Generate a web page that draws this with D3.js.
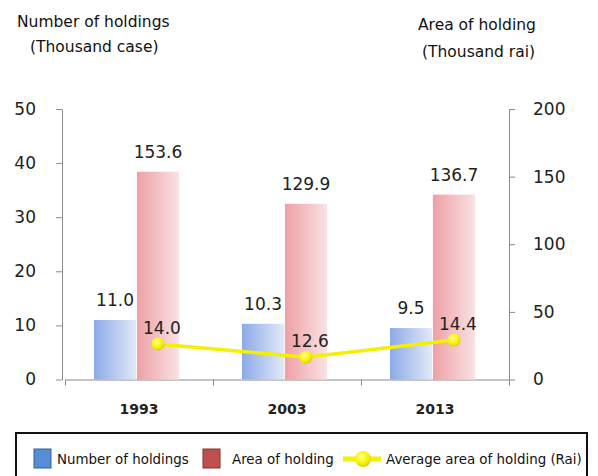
<!DOCTYPE html>
<html>
<head>
<meta charset="utf-8">
<script src="https://cdn.jsdelivr.net/npm/d3@7"></script>
<style>
  body { margin: 0; background: #fff; }
  svg { display: block; font-family: "DejaVu Sans", sans-serif; }
</style>
</head>
<body>
<svg id="chart" width="598" height="476"></svg>
<script>
// data
const years = ["1993", "2003", "2013"];
const holdings = [11.0, 10.3, 9.5];          // thousand case (left axis)
const areas = [153.6, 129.9, 136.7];         // thousand rai (right axis)
const avgArea = [14.0, 12.6, 14.4];          // rai per holding
const leftTicks = [0, 10, 20, 30, 40, 50];
const rightTicks = [0, 50, 100, 150, 200];
const seriesKeys = ["holdings", "area"];

const svg = d3.select("#chart");

// plot box
const x0px = 65, x1px = 509, yBottom = 379.5, yTop = 109;

// gradients for the bars + the yellow marker
const defs = svg.append("defs");
function hGrad(id, from, to) {
  const g = defs.append("linearGradient").attr("id", id)
    .attr("x1", "0%").attr("x2", "100%").attr("y1", "0%").attr("y2", "0%");
  g.append("stop").attr("offset", "0%").attr("stop-color", from);
  g.append("stop").attr("offset", "100%").attr("stop-color", to);
}
hGrad("blueGrad", "#8caae6", "#e2e9f8");
hGrad("redGrad", "#eea0a6", "#f9e2e3");
const rg = defs.append("radialGradient").attr("id", "dotGrad")
  .attr("cx", "40%").attr("cy", "35%").attr("r", "65%");
rg.append("stop").attr("offset", "0%").attr("stop-color", "#ffff80");
rg.append("stop").attr("offset", "70%").attr("stop-color", "#f2f200");
rg.append("stop").attr("offset", "100%").attr("stop-color", "#d8d000");

// scales
const x = d3.scaleBand().domain(years).range([x0px, x1px]);
const xInner = d3.scaleBand().domain(seriesKeys).range([29, 114]).paddingInner(0.02);
const yLeft = d3.scaleLinear().domain([0, 50]).range([yBottom, yTop]);
const yRight = d3.scaleLinear().domain([0, 200]).range([yBottom, yTop]);
// the average line sits on its own hidden axis
const yAvg = d3.scaleLinear().domain([10.25, 38.75]).range([yBottom, yTop]);

const axisColor = "#8a8a8a";

// left axis
const gl = svg.append("g").attr("transform", `translate(62,0)`)
  .call(d3.axisLeft(yLeft).tickValues(leftTicks).tickSize(6).tickSizeOuter(0).tickPadding(20));
// right axis
const gr = svg.append("g").attr("transform", `translate(${x1px},0)`)
  .call(d3.axisRight(yRight).tickValues(rightTicks).tickSize(6).tickSizeOuter(0).tickPadding(18));
[gl, gr].forEach(a => {
  a.selectAll("path, line").attr("stroke", axisColor);
  a.selectAll("text").attr("font-size", 17).attr("fill", "#222").attr("font-family", "DejaVu Sans");
});

// x axis: boundary ticks
const xEdges = d3.scaleLinear().domain([0, years.length]).range([x0px, x1px]);
const gx = svg.append("g").attr("transform", `translate(0,${yBottom})`)
  .call(d3.axisBottom(xEdges).tickValues(d3.range(years.length + 1)).tickFormat("").tickSize(6).tickSizeOuter(0));
gx.selectAll("path, line").attr("stroke", axisColor);

// x axis: category labels
const gxl = svg.append("g").attr("transform", `translate(0,${yBottom})`)
  .call(d3.axisBottom(x).tickSize(0).tickPadding(25));
gxl.select(".domain").remove();
gxl.selectAll("text").attr("font-size", 14).attr("font-weight", "bold")
  .attr("fill", "#222").attr("font-family", "DejaVu Sans");

// bars
const rows = years.map((y, i) => ({ year: y, holdings: holdings[i], area: areas[i], avg: avgArea[i] }));
const grp = svg.append("g").selectAll("g").data(rows).join("g")
  .attr("transform", d => `translate(${x(d.year)},0)`);

grp.append("rect")
  .attr("x", xInner("holdings")).attr("width", xInner.bandwidth())
  .attr("y", d => yLeft(d.holdings)).attr("height", d => yBottom - yLeft(d.holdings))
  .attr("fill", "url(#blueGrad)");
grp.append("rect")
  .attr("x", xInner("area")).attr("width", xInner.bandwidth())
  .attr("y", d => yRight(d.area)).attr("height", d => yBottom - yRight(d.area))
  .attr("fill", "url(#redGrad)");

grp.append("text")
  .attr("x", xInner("holdings") + xInner.bandwidth() / 2)
  .attr("y", d => yLeft(d.holdings) - 14)
  .attr("text-anchor", "middle").attr("font-size", 17).attr("fill", "#222")
  .text(d => d.holdings.toFixed(1));
grp.append("text")
  .attr("x", xInner("area") + xInner.bandwidth() / 2)
  .attr("y", d => yRight(d.area) - 14)
  .attr("text-anchor", "middle").attr("font-size", 17).attr("fill", "#222")
  .text(d => d.area.toFixed(1));

// average line
const lx = d => x(d.year) + xInner("area") + xInner.bandwidth() / 2;
svg.append("path").datum(rows)
  .attr("fill", "none").attr("stroke", "#f5f000").attr("stroke-width", 3.5)
  .attr("d", d3.line().x(lx).y(d => yAvg(d.avg)));
svg.append("g").selectAll("circle").data(rows).join("circle")
  .attr("cx", lx).attr("cy", d => yAvg(d.avg)).attr("r", 6.5)
  .attr("fill", "url(#dotGrad)");
svg.append("g").selectAll("text").data(rows).join("text")
  .attr("x", d => lx(d) + 4).attr("y", d => yAvg(d.avg) - 10)
  .attr("text-anchor", "middle").attr("font-size", 17).attr("fill", "#222")
  .text(d => d.avg.toFixed(1));

// axis titles
const titles = svg.append("g").attr("font-size", 15.5).attr("fill", "#111");
titles.append("text").attr("x", 17).attr("y", 27).text("Number of holdings");
titles.append("text").attr("x", 30).attr("y", 52).text("(Thousand case)");
titles.append("text").attr("x", 418).attr("y", 30).text("Area of holding");
titles.append("text").attr("x", 422).attr("y", 57).text("(Thousand rai)");

// legend
const lg = svg.append("g").attr("font-size", 13.4).attr("fill", "#111");
lg.append("rect").attr("x", 16).attr("y", 433).attr("width", 571).attr("height", 60)
  .attr("fill", "#fff").attr("stroke", "#111").attr("stroke-width", 2);
lg.append("rect").attr("x", 34).attr("y", 449).attr("width", 17).attr("height", 19)
  .attr("fill", "#558ed5").attr("stroke", "#3d5f8f").attr("stroke-width", 1);
lg.append("text").attr("x", 57).attr("y", 464).text("Number of holdings");
lg.append("rect").attr("x", 203).attr("y", 449).attr("width", 17).attr("height", 19)
  .attr("fill", "#c0504d").attr("stroke", "#7f3532").attr("stroke-width", 1);
lg.append("text").attr("x", 232).attr("y", 464).text("Area of holding");
lg.append("line").attr("x1", 343).attr("x2", 381).attr("y1", 459).attr("y2", 459)
  .attr("stroke", "#f5f000").attr("stroke-width", 5);
lg.append("circle").attr("cx", 363).attr("cy", 459).attr("r", 8).attr("fill", "url(#dotGrad)");
lg.append("text").attr("x", 386).attr("y", 464).text("Average area of holding (Rai)");
</script>
</body>
</html>
